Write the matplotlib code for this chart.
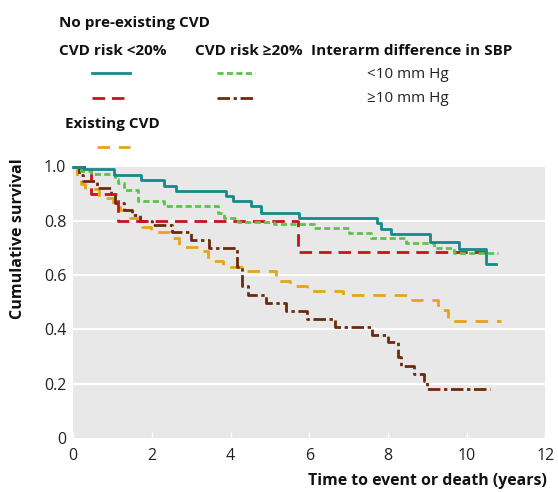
import matplotlib
matplotlib.use('Agg')
import matplotlib.pyplot as plt
from matplotlib.lines import Line2D

plt.rcParams['font.family'] = ['Open Sans', 'DejaVu Sans']

# survival step curves (time in years, cumulative survival)
t_low_lt10 = [0, 0.25, 1.04, 1.73, 2.3, 2.6, 3.88, 4.05, 4.52, 4.77, 5.74, 7.72, 7.82, 8.07, 9.06, 9.8, 10.48, 10.74]
s_low_lt10 = [1.0, 0.989, 0.968, 0.952, 0.927, 0.911, 0.89, 0.872, 0.853, 0.83, 0.812, 0.791, 0.769, 0.751, 0.723, 0.695, 0.64, 0.64]

t_high_lt10 = [0, 0.2, 0.45, 1.05, 1.15, 1.3, 1.65, 2.3, 3.67, 3.84, 4.18, 5.1, 6.12, 7.0, 7.56, 8.45, 9.17, 9.67, 10.8]
s_high_lt10 = [1.0, 0.985, 0.973, 0.955, 0.94, 0.915, 0.874, 0.855, 0.828, 0.81, 0.797, 0.788, 0.773, 0.754, 0.736, 0.72, 0.699, 0.68, 0.68]

t_low_ge10 = [0, 0.45, 1.13, 5.71, 10.6]
s_low_ge10 = [1.0, 0.9, 0.8, 0.686, 0.686]

t_high_ge10 = [0, 0.15, 0.25, 0.6, 0.95, 1.05, 1.3, 1.5, 1.7, 2.0, 2.5, 3.0, 3.45, 4.15, 4.3, 4.45, 4.9, 5.4, 5.95, 6.65, 7.6, 8.0, 8.25, 8.33, 8.65, 8.92, 9.0, 10.6]
s_high_ge10 = [1.0, 0.97, 0.946, 0.92, 0.9, 0.866, 0.84, 0.822, 0.8, 0.785, 0.758, 0.73, 0.7, 0.63, 0.56, 0.526, 0.497, 0.468, 0.44, 0.409, 0.38, 0.353, 0.30, 0.265, 0.237, 0.211, 0.18, 0.18]

t_existing = [0, 0.1, 0.2, 0.3, 0.66, 1.0, 1.2, 1.4, 1.75, 1.98, 2.45, 2.7, 3.2, 3.43, 3.8, 4.3, 5.15, 5.5, 5.95, 6.85, 8.6, 9.28, 9.52, 10.86]
s_existing = [1.0, 0.96, 0.935, 0.917, 0.884, 0.86, 0.84, 0.81, 0.779, 0.758, 0.735, 0.705, 0.688, 0.652, 0.631, 0.614, 0.58, 0.559, 0.542, 0.526, 0.507, 0.47, 0.431, 0.431]

x_ticks = [0, 2, 4, 6, 8, 10, 12]
y_ticks = [0, 0.2, 0.4, 0.6, 0.8, 1.0]
y_ticklabels = ['0', '0.2', '0.4', '0.6', '0.8', '1.0']

teal = '#16898a'
green = '#5cc24a'
red = '#c8121c'
brown = '#6e2a0c'
orange = '#e9a21b'

styles = {
    'teal': dict(color=teal, linestyle='-'),
    'green': dict(color=green, linestyle=(0, (2.2, 1.2))),
    'red': dict(color=red, linestyle=(0, (4.5, 2.5))),
    'brown': dict(color=brown, linestyle=(0, (4.5, 1.3, 1.2, 1.3))),
    'orange': dict(color=orange, linestyle=(0, (4.5, 3.2))),
}

fig = plt.figure(figsize=(5.58, 4.92), dpi=100)
ax = fig.add_axes([73.2/558, 54/492, 472.2/558, 271.5/492])
ax.set_facecolor('#e8e8e8')

lw = 2.0
curves = [
    (t_existing, s_existing, 'orange'),
    (t_high_ge10, s_high_ge10, 'brown'),
    (t_low_ge10, s_low_ge10, 'red'),
    (t_high_lt10, s_high_lt10, 'green'),
    (t_low_lt10, s_low_lt10, 'teal'),
]
for t, s, key in curves:
    ax.plot(t, s, drawstyle='steps-post', lw=lw, clip_on=False, zorder=3, **styles[key])

ax.set_xlim(0, 12)
ax.set_ylim(0, 1.0)
ax.set_xticks(x_ticks)
ax.set_yticks(y_ticks)
ax.set_yticklabels(y_ticklabels)
for y in y_ticks[1:-1]:
    ax.axhline(y, color='white', lw=1.6, zorder=1)
for sp in ax.spines.values():
    sp.set_visible(False)
ax.tick_params(axis='x', direction='in', length=4, width=1, color='white', labelsize=11.5, pad=7, labelcolor='#222222')
ax.tick_params(axis='y', length=0, labelsize=11.5, pad=5, labelcolor='#222222')

# legend drawn by hand in figure pixel coordinates
def fx(px):
    return px / 558

def fy(py):
    return 1 - py / 492

fig.text(fx(18), fy(239), 'Cumulative survival', rotation=90, fontsize=11.6,
         fontweight='bold', ha='center', va='center', color='#111111')
fig.text(fx(547), fy(481), 'Time to event or death (years)', fontsize=11.4,
         fontweight='bold', ha='right', va='center', color='#111111')

bold = dict(fontsize=11, fontweight='bold', va='center', ha='left', color='#111111')
fig.text(fx(59), fy(23), 'No pre-existing CVD', **bold)
fig.text(fx(59), fy(51), 'CVD risk <20%', **bold)
fig.text(fx(195), fy(51), 'CVD risk ≥20%', **bold)
fig.text(fx(311), fy(51), 'Interarm difference in SBP', **bold)
fig.text(fx(367), fy(75), '<10 mm Hg', fontsize=11, va='center', ha='left', color='#222222')
fig.text(fx(367), fy(98), '≥10 mm Hg', fontsize=11, va='center', ha='left', color='#222222')
fig.text(fx(65), fy(124), 'Existing CVD', **bold)

def legline(x0, x1, py, key):
    fig.add_artist(Line2D([fx(x0), fx(x1)], [fy(py), fy(py)], lw=lw, **styles[key]))

legline(92, 130, 73, 'teal')
legline(217, 255, 73, 'green')
legline(92, 130, 98, 'red')
legline(217, 255, 98, 'brown')
legline(97, 130, 147, 'orange')

fig.savefig('out.png', dpi=100)
